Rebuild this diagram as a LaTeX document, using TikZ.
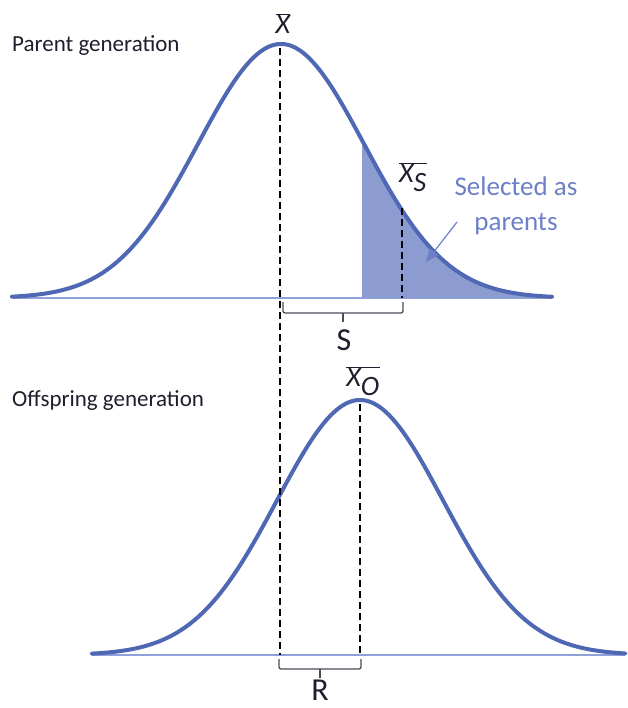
\documentclass[tikz,border=0pt]{standalone}
\usepackage{fontspec}
\setmainfont{Carlito}
\usetikzlibrary{arrows.meta}
\definecolor{curveblue}{HTML}{4F68B4}
\definecolor{fillblue}{HTML}{8C9BD0}
\definecolor{baseblue}{HTML}{8FA3DA}
\definecolor{textblue}{HTML}{6C80C8}
\definecolor{darktext}{HTML}{1E1E2E}
\tikzset{
  curve/.style={draw=curveblue, line width=4pt, line cap=round},
  baseline/.style={draw=baseblue, line width=1.2pt},
  guide/.style={draw=black, line width=2.2pt, dash pattern=on 7pt off 4pt},
  bracket/.style={draw=darktext!80, line width=1.3pt, rounded corners=2pt},
  title/.style={font=\fontsize{23}{26}\selectfont, text=darktext, anchor=west, inner sep=0pt},
  mlabel/.style={font=\fontsize{28}{30}\selectfont, text=darktext, inner sep=0pt},
  blabel/.style={font=\fontsize{32}{34}\selectfont, text=darktext, inner sep=0pt},
}
\newcommand{\vx}{\textit{X}}
\begin{document}
\begin{tikzpicture}[x=1pt, y=-1pt]
\useasboundingbox (0,0) rectangle (627,708);
% top generation
\draw[baseline] (12,298) -- (552,298);
\fill[fillblue] (362,298) -- plot[domain=362:552, samples=80] (\x, {298-254*exp(-0.5*((\x-281)/83)^2)}) -- (552,298) -- cycle;
\draw[curve] plot[domain=12:552, samples=200] (\x, {298-254*exp(-0.5*((\x-281)/83)^2)});
% bottom generation
\draw[baseline] (92,655) -- (625,655);
\draw[curve] plot[domain=92:625, samples=200] (\x, {655-255*exp(-0.5*((\x-360)/83)^2)});
% labels
\node[title] (pg) at (12,46) {Parent generation};
\node[title] (og) at (12,401) {Offspring generation};
\node[mlabel] (xbar) at (283,24) {$\overline{\vx}$};
\node[mlabel] (xs) at (413,177) {$\overline{\vx_{\textit{S}}}$};
\node[mlabel] (xo) at (363,381) {$\overline{\vx_{\textit{O}}}$};
\node[font=\fontsize{27}{35}\selectfont, text=textblue, align=center, inner sep=0pt] (sel) at (516,206) {Selected as\\parents};
% guides
\coordinate (g1t) at (280,48);
\coordinate (g1b) at (280,655);
\coordinate (g2t) at (402,208);
\coordinate (g2b) at (402,298);
\coordinate (g3t) at (360,404);
\coordinate (g3b) at (360,655);
\draw[guide] (g1t) -- (g1b);
\draw[guide] (g2t) -- (g2b);
\draw[guide] (g3t) -- (g3b);
% arrow
\coordinate (tip) at (426,262);
\draw[textblue, line width=1.2pt, -{Triangle[length=13pt, width=11pt]}] (457,222) -- (tip);
% brackets
\draw[bracket] (283,302) -- (283,313) -- (403,313) -- (403,302);
\draw[bracket, rounded corners=0pt] (343,313) -- (343,322);
\node[blabel] (S) at (344,340) {S};
\draw[bracket] (279,659) -- (279,669) -- (361,669) -- (361,659);
\draw[bracket, rounded corners=0pt] (320,669) -- (320,678);
\node[blabel] (R) at (320,690) {R};
\end{tikzpicture}
\end{document}
